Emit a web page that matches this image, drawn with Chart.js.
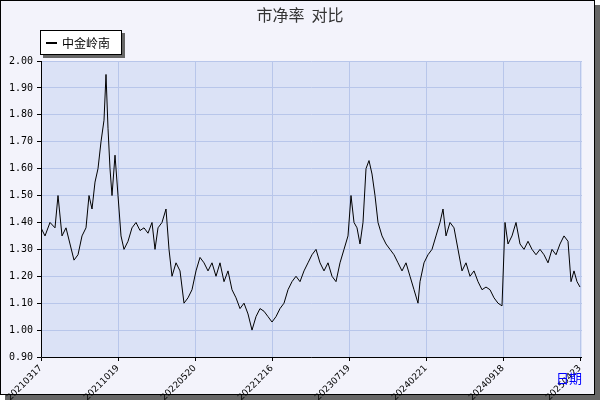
<!DOCTYPE html>
<html><head><meta charset="utf-8">
<script src="https://cdn.jsdelivr.net/npm/chart.js@4"></script>
<style>body{margin:0;background:#fff}#wrap{width:600px;height:400px;position:relative}</style>
</head><body><div id="wrap"><canvas id="c" width="600" height="400"></canvas></div>
<script>
// x position in plot pixels (0 = 20210317)
const pos = [0,4,9,14,17,21,25,29,33,37,41,45,48,51,54,57,60,63,65,67,69,71,74,77,80,83,87,91,95,99,103,107,111,114,117,121,125,128,131,135,139,143,147,151,155,159,163,167,171,175,179,183,187,191,195,199,203,207,211,215,219,223,227,231,235,239,243,247,251,255,259,263,267,271,275,279,283,287,291,295,299,303,307,310,313,316,319,322,325,328,331,334,337,341,345,349,353,357,361,365,369,373,377,379,383,387,391,395,399,402,405,409,413,417,421,425,429,433,437,441,445,449,453,457,461,464,467,471,475,479,483,487,491,495,499,503,507,511,515,519,523,527,530,533,536,539];
const pbValues = [1.38,1.35,1.40,1.38,1.50,1.35,1.38,1.32,1.26,1.28,1.35,1.38,1.50,1.45,1.55,1.60,1.70,1.78,1.95,1.75,1.60,1.50,1.65,1.50,1.35,1.30,1.33,1.38,1.40,1.37,1.38,1.36,1.40,1.30,1.38,1.40,1.45,1.30,1.20,1.25,1.22,1.10,1.12,1.15,1.22,1.27,1.25,1.22,1.25,1.20,1.25,1.18,1.22,1.15,1.12,1.08,1.10,1.06,1.00,1.05,1.08,1.07,1.05,1.03,1.05,1.08,1.10,1.15,1.18,1.20,1.18,1.22,1.25,1.28,1.30,1.25,1.22,1.25,1.20,1.18,1.25,1.30,1.35,1.50,1.40,1.38,1.32,1.40,1.60,1.63,1.58,1.50,1.40,1.35,1.32,1.30,1.28,1.25,1.22,1.25,1.20,1.15,1.10,1.18,1.25,1.28,1.30,1.35,1.40,1.45,1.35,1.40,1.38,1.30,1.22,1.25,1.20,1.22,1.18,1.15,1.16,1.15,1.12,1.10,1.09,1.40,1.32,1.35,1.40,1.32,1.30,1.33,1.30,1.28,1.30,1.28,1.25,1.30,1.28,1.32,1.35,1.33,1.18,1.22,1.18,1.16];
const tickLabels = ['20210317','20211019','20220520','20221216','20230719','20240221','20240918','20250423'];
const seriesName = '中金岭南';

const frame = {
  id: 'frame',
  beforeDraw(ch) {
    const c = ch.ctx, a = ch.chartArea;
    c.save();
    c.fillStyle = '#666'; c.fillRect(5, 5, 595, 395);
    c.fillStyle = '#f3f3fb'; c.fillRect(0, 0, 595, 395);
    c.strokeStyle = '#000'; c.strokeRect(0.5, 0.5, 594, 394);
    c.fillStyle = '#dbe2f6'; c.fillRect(a.left, a.top, a.right - a.left, a.bottom - a.top);
    c.restore();
  },
  afterDraw(ch) {
    const c = ch.ctx, a = ch.chartArea;
    c.save();
    c.strokeStyle = '#000'; c.lineWidth = 1;
    c.beginPath(); c.moveTo(a.left + 0.5, a.top); c.lineTo(a.left + 0.5, a.bottom + 0.5); c.lineTo(a.right, a.bottom + 0.5); c.stroke();
    c.fillStyle = '#333'; c.font = '16px "Noto Sans CJK SC"'; c.textAlign = 'center';
    c.fillText('市净率  对比', 300, 21);
    c.fillStyle = '#666'; c.fillRect(43, 33, 82, 25);
    c.fillStyle = '#fff'; c.fillRect(40, 30, 82, 25);
    c.strokeStyle = '#000'; c.strokeRect(40.5, 30.5, 81, 24);
    c.beginPath(); c.moveTo(46, 43); c.lineTo(57, 43); c.lineWidth = 2; c.stroke();
    c.fillStyle = '#000'; c.font = '12px "Noto Sans CJK SC"'; c.textAlign = 'left'; c.textBaseline = 'middle';
    c.fillText(seriesName, 62, 43);
    c.fillStyle = '#00f'; c.font = '13px "Noto Sans CJK SC"';
    c.fillText('日期', 556, 378);
    c.restore();
  }
};

new Chart(document.getElementById('c'), {
  type: 'line',
  data: { datasets: [{ data: pos.map((x, i) => ({ x, y: pbValues[i] })), borderColor: '#000', borderWidth: 1, pointRadius: 0, tension: 0 }] },
  options: {
    responsive: false, animation: false,
    layout: { padding: { top: 61, right: 18, left: 0, bottom: 0 } },
    plugins: { legend: { display: false }, tooltip: { enabled: false } },
    scales: {
      x: {
        type: 'linear', min: 0, max: 541,
        afterBuildTicks: s => { s.ticks = tickLabels.map((_, i) => ({ value: i * 77 })); },
        afterFit: s => { s.height = 43; },
        ticks: { callback: (v) => tickLabels[Math.round(v / 77)] || '', maxRotation: 45, minRotation: 45, color: '#000', font: { family: 'DejaVu Sans', size: 9 }, padding: 2 },
        grid: { color: '#b8c6ea', tickColor: '#000', tickLength: 4 },
        border: { display: false }
      },
      y: {
        min: 0.9, max: 2.0,
        afterFit: s => { s.width = 41; },
        ticks: { stepSize: 0.1, callback: v => v.toFixed(2), color: '#000', font: { family: 'DejaVu Sans Mono', size: 10 }, padding: 4 },
        grid: { color: '#b8c6ea', tickColor: '#000', tickLength: 4 },
        border: { display: false }
      }
    }
  },
  plugins: [frame]
});
</script></body></html>
